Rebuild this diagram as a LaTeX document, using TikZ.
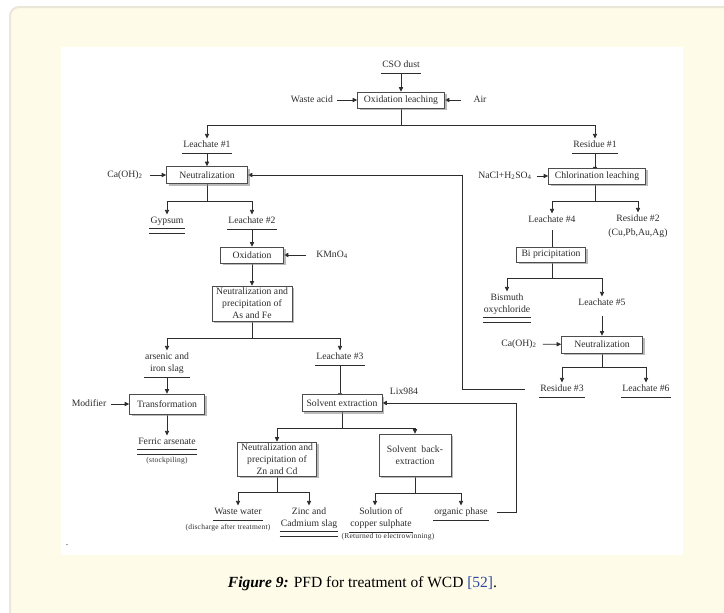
\documentclass[tikz,border=0pt]{standalone}
\usepackage{fontspec}
\setmainfont{Liberation Serif}
\newfontfamily\notefamily[LetterSpace=3]{Liberation Serif}
\usetikzlibrary{arrows.meta,shadows}

\definecolor{cardfill}{RGB}{254,251,232}
\definecolor{cardedge}{RGB}{234,230,218}
\definecolor{ink}{RGB}{45,45,45}
\definecolor{refblue}{RGB}{44,72,160}

\pgfdeclarelayer{page}
\pgfdeclarelayer{links}
\pgfsetlayers{page,links,main}

\newcommand\diagfont{\fontsize{9.7}{12}\selectfont}
\newcommand\notefont{\notefamily\fontsize{7.5}{9}\selectfont}

\tikzset{
  flow/.style={draw=ink, line width=0.75pt},
  arr/.style={flow, -{Triangle[length=4.5pt,width=4.2pt]}},
  arrl/.style={arr, shorten >=2pt},
  box/.style={draw=ink!85, line width=0.6pt, fill=white,
    drop shadow={shadow xshift=2pt, shadow yshift=-2pt, fill=black!45, opacity=0.6},
    inner sep=1pt, align=center, text=ink, font=\diagfont},
  lab/.style={inner sep=0pt, text height=6.8pt, text depth=2pt, text=ink, font=\diagfont},
  mlab/.style={inner sep=0pt, align=center, text=ink, font=\diagfont},
  note/.style={inner sep=0pt, text=ink, font=\notefont},
  uline/.style={draw=ink, line width=0.6pt},
}

% single and double underline below a product label
\newcommand\ulabel[1]{\draw[uline] ([xshift=-1pt,yshift=-3.6pt]#1.south west) -- ([xshift=1pt,yshift=-3.6pt]#1.south east);}
\newcommand\dulabel[1]{%
  \draw[uline] ([xshift=-1pt,yshift=-3pt]#1.south west) -- ([xshift=1pt,yshift=-3pt]#1.south east);
  \draw[uline] ([xshift=-1pt,yshift=-7.5pt]#1.south west) -- ([xshift=1pt,yshift=-7.5pt]#1.south east);}

\begin{document}
\begin{tikzpicture}[x=1pt,y=-1pt]
\useasboundingbox (0,0) rectangle (724,613);
\clip (0,0) rectangle (724,613);

% page, card and figure area
\begin{pgfonlayer}{page}
\fill[white] (0,0) rectangle (724,613);
\draw[cardedge, line width=2pt, fill=cardfill, rounded corners=9pt] (10,7) rectangle (760,650);
\fill[white] (61,47) rectangle (683,555);
\end{pgfonlayer}

% ---------- process boxes ----------
\node[box, minimum width=87pt, minimum height=16pt] (oxl)   at (401,100)   {Oxidation leaching};
\node[box, minimum width=81pt, minimum height=17pt] (neut1) at (207,175)   {Neutralization};
\node[box, minimum width=97pt, minimum height=16pt] (chl)   at (597,176)   {Chlorination leaching};
\node[box, minimum width=63pt, minimum height=16pt] (oxid)  at (252,255)   {Oxidation};
\node[box, minimum width=80pt, minimum height=35pt] (nprec) at (252,303.5) {Neutralization and\\precipitation of\\As and Fe};
\node[box, minimum width=69pt, minimum height=15pt] (bip)   at (551,254.5) {Bi pricipitation};
\node[box, minimum width=81pt, minimum height=17pt] (neut2) at (602,344.5) {Neutralization};
\node[box, minimum width=75pt, minimum height=20pt] (trans) at (167,404)   {Transformation};
\node[box, minimum width=80pt, minimum height=17pt] (sx)    at (342,403)   {Solvent extraction};
\node[box, minimum width=79pt, minimum height=34pt] (nzc)   at (277,459)   {Neutralization and\\precipitation of\\Zn and Cd};
\node[box, minimum width=72pt, minimum height=42pt] (sbx)   at (415,455)   {Solvent\ \ back-\\extraction};

% ---------- streams and products ----------
\node[lab] (cso)    at (401,65)  {CSO dust};
\node[lab] (wacid)  at (312,100) {Waste acid};
\node[lab] (air)    at (480,100) {Air};
\node[lab] (leach1) at (207,145) {Leachate \#1};
\node[lab] (res1)   at (595,145) {Residue \#1};
\node[lab] (caoh1)  at (125,175) {Ca(OH)\textsubscript{2}};
\node[lab] (nacl)   at (505,176) {NaCl+H\textsubscript{2}SO\textsubscript{4}};
\node[lab] (gyp)    at (167,221) {Gypsum};
\node[lab] (leach2) at (252,221) {Leachate \#2};
\node[lab] (leach4) at (552,220) {Leachate \#4};
\node[mlab] (res2)  at (638,226) {Residue \#2\\[2pt](Cu,Pb,Au,Ag)};
\node[lab] (kmno)   at (332,255) {KMnO\textsubscript{4}};
\node[mlab] (bism)  at (507,304) {Bismuth\\oxychloride};
\node[lab] (leach5) at (602,303) {Leachate \#5};
\node[lab] (caoh2)  at (519,344) {Ca(OH)\textsubscript{2}};
\node[mlab] (asfe)  at (167,363) {arsenic and\\iron slag};
\node[lab] (leach3) at (340,357) {Leachate \#3};
\node[lab] (res3)   at (562,389) {Residue \#3};
\node[lab] (leach6) at (646,389) {Leachate \#6};
\node[lab] (modif)  at (89,404)  {Modifier};
\node[lab] (lix)    at (404,392) {Lix984};
\node[lab] (ferric) at (167,442) {Ferric arsenate};
\node[note] (stock) at (167,461) {(stockpiling)};
\node[lab] (wwater) at (238,512) {Waste water};
\node[note] (disch) at (228,528) {(discharge after treatment)};
\node[mlab] (znslag) at (309,518) {Zinc and\\Cadmium slag};
\node[mlab] (cuso)  at (381,518) {Solution of\\copper sulphate};
\node[note] (ret)   at (388,537) {(Returned to electrowinning)};
\node[lab] (org)    at (461,512) {organic phase};
\node[lab] (dot)    at (67,543)  {.};

% ---------- split points ----------
\coordinate (j1) at (401,125);
\coordinate (j2) at (207,201);
\coordinate (j3) at (252,338);
\coordinate (j4) at (342,428);
\coordinate (j5) at (277,492);
\coordinate (j6) at (415,493);
\coordinate (j7) at (595,201);
\coordinate (j8) at (552,278);
\coordinate (j9) at (602,367);
\coordinate (fbA) at (462,0);
\coordinate (fbB) at (516,0);

\begin{pgfonlayer}{links}
\ulabel{cso}
\ulabel{leach1}
\ulabel{res1}
\dulabel{gyp}
\ulabel{leach2}
\dulabel{bism}
\ulabel{asfe}
\ulabel{leach3}
\ulabel{res3}
\ulabel{leach6}
\dulabel{ferric}
\ulabel{wwater}
\dulabel{znslag}
\ulabel{cuso}
\ulabel{org}

% main line
\draw[arr] ([yshift=-3.6pt]cso.south) -- (oxl.north);
\draw[arr, shorten <=4pt] (wacid) -- (oxl);
\draw[arr, shorten <=12pt] (air) -- (oxl);
\draw[flow] (oxl.south) -- (j1);
\draw[arrl] (j1) -| (leach1.north);
\draw[arrl] (j1) -| (res1.north);

% left branch
\draw[arr] ([yshift=-3.6pt]leach1.south) -- (neut1.north);
\draw[arr, shorten <=7pt] (caoh1) -- (neut1);
\draw[flow] (neut1.south) -- (j2);
\draw[arrl] (j2) -| (gyp.north);
\draw[arrl] (j2) -| (leach2.north);
\draw[arr] ([yshift=-3.6pt]leach2.south) -- (oxid.north);
\draw[arr, shorten <=10pt] (kmno) -- (oxid);
\draw[arr] (oxid.south) -- (nprec.north);
\draw[flow] (nprec.south) -- (j3);
\draw[arrl] (j3) -| (asfe.north);
\draw[arrl] (j3) -| (leach3.north);
\draw[arr] ([yshift=-3.6pt]asfe.south) -- (trans.north);
\draw[arr, shorten <=5pt] (modif) -- (trans);
\draw[arrl] (trans.south) -- (ferric.north);
\draw[arr] ([yshift=-3.6pt]leach3.south) -- ([yshift=-3.6pt]leach3.south |- sx.north);
\draw[flow] (sx.south) -- (j4);
\draw[arr] (j4) -| (nzc.north);
\draw[arr] (j4) -| (sbx.north);
\draw[flow] (nzc.south) -- (j5);
\draw[arrl] (j5) -| (wwater.north);
\draw[arrl] (j5) -| (znslag.north);
\draw[flow] (sbx.south) -- (j6);
\draw[arrl] (j6) -| ([xshift=-6pt]cuso.north);
\draw[arrl] (j6) -| (org.north);
\draw[arr] ([xshift=9pt]org.east) -| (fbB |- sx.east) -- (sx.east);

% right branch
\draw[arr] ([yshift=-3.6pt]res1.south) -- ([yshift=-3.6pt]res1.south |- chl.north);
\draw[arr, shorten <=5pt] (nacl) -- (chl);
\draw[flow] (j7 |- chl.south) -- (j7);
\draw[arrl] (j7) -| (leach4.north);
\draw[arrl] (j7) -| (res2.north);
\draw[arr] ([yshift=-5.5pt]leach4.south) -- ([yshift=-5.5pt]leach4.south |- bip.north);
\draw[flow] (j8 |- bip.south) -- (j8);
\draw[arrl] (j8) -| (bism.north);
\draw[arrl] (j8) -| (leach5.north);
\draw[arr] ([yshift=-8pt]leach5.south) -- (neut2.north);
\draw[arr, shorten <=6pt] (caoh2) -- (neut2);
\draw[flow] (neut2.south) -- (j9);
\draw[arrl] (j9) -| (res3.north);
\draw[arrl] (j9) -| (leach6.north);
\draw[arr] ([xshift=-15pt]res3.west) -| (fbA |- neut1.east) -- (neut1.east);
\end{pgfonlayer}

% ---------- caption ----------
\node[inner sep=0pt, font=\fontsize{15.5}{18}\selectfont, text=black] (cap) at (362.5,584)
  {\textbf{\textit{Figure 9:}} PFD for treatment of WCD \textcolor{refblue}{[52]}.};
\end{tikzpicture}
\end{document}
